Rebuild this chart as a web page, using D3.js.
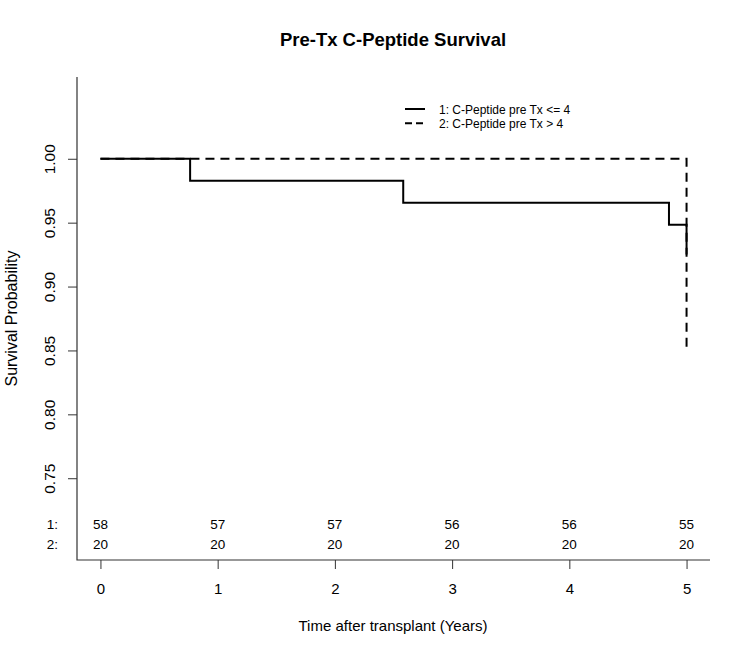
<!DOCTYPE html>
<html>
<head>
<meta charset="utf-8">
<script src="https://cdn.jsdelivr.net/npm/d3@7"></script>
<style>
  body { margin: 0; background: #fff; }
  svg { display: block; font-family: "Liberation Sans", Arial, sans-serif; }
</style>
</head>
<body>
<div id="chart"></div>
<script>
// Kaplan-Meier steps
var times1 = [0, 0.765, 2.583, 4.85, 5];
var surv1 = [1.0, 0.9828, 0.9655, 0.9483, 0.925];
var times2 = [0, 5];
var surv2 = [1.0, 0.85];

var groupNames = ["1: C-Peptide pre Tx <= 4", "2: C-Peptide pre Tx > 4"];
var riskTimes = [0, 1, 2, 3, 4, 5];
var risk1 = [58, 57, 57, 56, 56, 55];
var risk2 = [20, 20, 20, 20, 20, 20];
var yTicks = [0.75, 0.80, 0.85, 0.90, 0.95, 1.00];

var W = 750, H = 656;
var plotLeft = 77, plotRight = 710, plotTop = 77, plotBottom = 560;

var svg = d3.select("#chart").append("svg")
    .attr("width", W)
    .attr("height", H);

svg.append("rect").attr("width", W).attr("height", H).attr("fill", "#fff");

var x = d3.scaleLinear().domain([-0.2, 5.2]).range([plotLeft, plotRight]);
var y = d3.scaleLinear().domain([0.686, 1.064]).range([plotBottom, plotTop]);

// title
svg.append("text")
    .attr("x", 393).attr("y", 46)
    .attr("text-anchor", "middle")
    .style("font-size", "18.5px")
    .style("font-weight", "bold")
    .text("Pre-Tx C-Peptide Survival");

// x axis
var xAxis = svg.append("g")
    .attr("transform", "translate(0," + plotBottom + ")")
    .call(d3.axisBottom(x).tickValues(riskTimes).tickSize(9).tickPadding(0).tickFormat(d3.format("d")));
xAxis.select(".domain").remove();
xAxis.selectAll("line").attr("stroke", "#333");
xAxis.selectAll("text")
    .attr("dy", null)
    .attr("y", 34)
    .style("font-size", "15px")
    .style("font-family", "Liberation Sans, Arial, sans-serif")
    .attr("fill", "#000");

// y axis
var yAxis = svg.append("g")
    .attr("transform", "translate(" + plotLeft + ",0)")
    .call(d3.axisLeft(y).tickValues(yTicks).tickSize(9).tickFormat(d3.format(".2f")));
yAxis.select(".domain").remove();
yAxis.selectAll("line").attr("stroke", "#333");
yAxis.selectAll("text")
    .attr("x", null).attr("dy", null)
    .attr("text-anchor", "middle")
    .attr("transform", "translate(-22,0) rotate(-90)")
    .style("font-size", "15.5px")
    .style("font-family", "Liberation Sans, Arial, sans-serif")
    .attr("fill", "#000");

// L-shaped box
svg.append("path")
    .attr("d", "M" + plotLeft + "," + plotTop + "V" + plotBottom + "H" + plotRight)
    .attr("fill", "none")
    .attr("stroke", "#333")
    .attr("stroke-width", 1.2);

// axis titles
svg.append("text")
    .attr("x", 393).attr("y", 631)
    .attr("text-anchor", "middle")
    .style("font-size", "15px")
    .text("Time after transplant (Years)");

svg.append("text")
    .attr("transform", "translate(17," + ((plotTop + plotBottom) / 2) + ") rotate(-90)")
    .attr("text-anchor", "middle")
    .style("font-size", "16px")
    .text("Survival Probability");

// survival curves
var line = d3.line()
    .x(function(d) { return x(d[0]); })
    .y(function(d) { return y(d[1]); })
    .curve(d3.curveStepAfter);

svg.append("path")
    .datum(d3.zip(times2, surv2))
    .attr("d", line)
    .attr("fill", "none")
    .attr("stroke", "#000")
    .attr("stroke-width", 2)
    .attr("stroke-dasharray", "9,6");

svg.append("path")
    .datum(d3.zip(times1, surv1))
    .attr("d", line)
    .attr("fill", "none")
    .attr("stroke", "#000")
    .attr("stroke-width", 2);

// legend
var legend = svg.append("g");
groupNames.forEach(function(name, i) {
    var ly = 109 + i * 14.3;
    legend.append("line")
        .attr("x1", 405).attr("x2", 425)
        .attr("y1", ly).attr("y2", ly)
        .attr("stroke", "#000")
        .attr("stroke-width", 2)
        .attr("stroke-dasharray", i === 0 ? null : "7,4");
    legend.append("text")
        .attr("x", 439).attr("y", ly + 4.5)
        .style("font-size", "12px")
        .text(name);
});

// numbers at risk
[risk1, risk2].forEach(function(row, i) {
    var by = 529 + i * 19.7;
    svg.append("text")
        .attr("x", 58).attr("y", by)
        .attr("text-anchor", "end")
        .style("font-size", "13.5px")
        .text((i + 1) + ":");
    svg.selectAll(".risk" + i)
        .data(row)
        .enter()
        .append("text")
        .attr("class", "risk" + i)
        .attr("x", function(d, j) { return x(riskTimes[j]); })
        .attr("y", by)
        .attr("text-anchor", "middle")
        .style("font-size", "13.5px")
        .text(function(d) { return d; });
});
</script>
</body>
</html>
